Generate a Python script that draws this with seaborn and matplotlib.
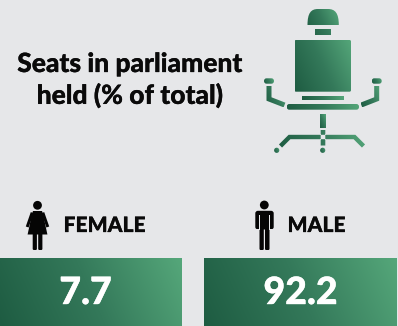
import numpy as np
import matplotlib
matplotlib.use("Agg")
import matplotlib.pyplot as plt
import matplotlib.patheffects as pe
from matplotlib.patches import Rectangle, Circle, FancyBboxPatch, Polygon, PathPatch
from matplotlib.path import Path
from matplotlib.transforms import IdentityTransform
import seaborn as sns

title_lines = ["Seats in parliament", "held (% of total)"]
categories = ["FEMALE", "MALE"]
values = [7.7, 92.2]

BG = "#e6e7e9"
W, H = 398, 326

sns.set_theme(style="white", rc={"figure.facecolor": BG, "axes.facecolor": BG})
plt.rcParams["font.family"] = ["Lato", "Open Sans", "DejaVu Sans"]

green = sns.blend_palette(["#1e5c42", "#34795a", "#55a77a"], as_cmap=True)

fig = plt.figure(figsize=(W / 100, H / 100), dpi=100)
ax = fig.add_axes([0, 0, 1, 1])
ax.set_xlim(0, W)
ax.set_ylim(H, 0)
ax.axis("off")


def gradient(x0, y0, x1, y1, clips=None, tilt=0.45):
    """Paint a diagonal green ramp over a box, optionally cut to some patches."""
    xx, yy = np.meshgrid(np.linspace(0, 1, 200), np.linspace(1, 0, 100))
    span = (x1 - x0) + tilt * (y1 - y0)
    ramp = (xx * (x1 - x0) + tilt * yy * (y1 - y0)) / span
    im = ax.imshow(ramp, extent=(x0, x1, y1, y0), origin="upper", cmap=green,
                   vmin=0, vmax=1, aspect="auto", zorder=2, interpolation="bilinear")
    if clips:
        verts, codes = [], []
        for p in clips:
            tr = IdentityTransform() if isinstance(p, PathPatch) else p.get_patch_transform()
            path = p.get_path().transformed(tr)
            verts.append(path.vertices)
            codes.append(path.codes if path.codes is not None else
                         [Path.MOVETO] + [Path.LINETO] * (len(path.vertices) - 1))
        merged = Path(np.concatenate(verts), np.concatenate(codes))
        im.set_clip_path(PathPatch(merged, transform=ax.transData))
    return im


def rounded(x0, y0, x1, y1, r):
    return FancyBboxPatch((x0 + r, y0 + r), x1 - x0 - 2 * r, y1 - y0 - 2 * r,
                          boxstyle=f"round,pad={r},rounding_size={r}")


def stroke(points, width):
    """Outline a mitred polyline as a closed polygon."""
    pts = np.asarray(points, float)
    left, right = [], []
    for i, p in enumerate(pts):
        a = pts[max(i - 1, 0)]
        b = pts[min(i + 1, len(pts) - 1)]
        if 0 < i < len(pts) - 1:
            d1 = (p - a) / np.linalg.norm(p - a)
            d2 = (b - p) / np.linalg.norm(b - p)
            n1 = np.array([-d1[1], d1[0]])
            n = n1 + np.array([-d2[1], d2[0]])
            n = n / np.dot(n, n1)
        else:
            d = (b - a) / np.linalg.norm(b - a)
            n = np.array([-d[1], d[0]])
        left.append(p + n * width / 2)
        right.append(p - n * width / 2)
    return Polygon(np.array(left + right[::-1]), closed=True)


def rect(x0, y0, x1, y1):
    return Rectangle((x0, y0), x1 - x0, y1 - y0)


def solid(patch, color="#050505", z=3):
    patch.set(color=color, lw=0, zorder=z)
    ax.add_patch(patch)


def heavy(color, width=0.2):
    """Thicken glyphs a little beyond the heaviest installed weight."""
    return [pe.withStroke(linewidth=width, foreground=color)]


# Headline
for line, y in zip(title_lines, [64, 95.5]):
    ax.text(129.5, y, line, ha="center", va="center", fontsize=19.0,
            fontweight=900, color="#0a0a0a", path_effects=heavy("#0a0a0a"))

# Office chair
headrest = PathPatch(Path(
    [(307.5, 25), (307.5, 13), (311, 9), (318, 9), (328, 9), (335, 9), (338.8, 13),
     (338.8, 25), (307.5, 25)],
    [Path.MOVETO, Path.CURVE4, Path.CURVE4, Path.CURVE4, Path.LINETO, Path.CURVE4,
     Path.CURVE4, Path.CURVE4, Path.CLOSEPOLY]))
gradient(307, 9, 339, 35, [headrest, rect(315, 29, 331, 35)])
gradient(294.5, 40, 351, 91.7, [rounded(294.5, 40, 351, 91.7, 1.5)])
gradient(302, 96, 344, 100, [rect(302, 96, 344, 100)])
gradient(286.7, 104, 359, 109.7, [rounded(286.7, 104, 359, 109.7, 2.6)])
gradient(320, 114, 326, 128, [rect(320, 114, 326, 128)])
gradient(264, 78.3, 274, 83.7, [rounded(264, 78.3, 274, 83.7, 2.6)])
gradient(371.7, 78.3, 381.7, 83.7, [rounded(371.7, 78.3, 381.7, 83.7, 2.6)])
gradient(266, 86, 285.5, 107.5, [stroke([(269, 86), (269, 99), (284.5, 105)], 5)])
gradient(360.5, 86, 380, 107.5, [stroke([(376.7, 86), (376.7, 99), (361.3, 105)], 5)])
gradient(278, 130, 365, 148,
         [stroke([(280.5, 146), (289.5, 137), (354.5, 137), (363.5, 146)], 4.4),
          rect(320.7, 130, 325.3, 145.5)])
gradient(274, 147.5, 279.5, 153, [Circle((276.7, 150.3), 2.6)])
gradient(320, 147.5, 325.5, 153, [Circle((322.7, 150.3), 2.6)])

# Female figure
solid(Circle((37.5, 205.3), 4.4))
solid(Polygon([(33, 211), (42, 211), (43, 214), (47.4, 234.5), (27.6, 234.5),
               (32, 214)]))
solid(stroke([(32.2, 212.6), (27.2, 227)], 3.0))
solid(stroke([(42.8, 212.6), (47.8, 227)], 3.0))
solid(rounded(32.7, 233, 36.9, 250, 1.2))
solid(rounded(38.2, 233, 42.4, 250, 1.2))

# Male figure
solid(Circle((264.3, 205), 4.4))
solid(rounded(255.3, 210.8, 273.7, 229.5, 2.6))
for x0, x1 in [(258.8, 259.8), (269.2, 270.2)]:
    solid(rect(x0, 214.5, x1, 230), color=BG, z=3.5)
for x0, x1 in [(255, 259), (270, 274)]:
    solid(rect(x0, 229.4, x1, 231), color=BG, z=3.5)
solid(rounded(259.5, 225, 263.8, 250, 1.2))
solid(rounded(265, 225, 269.5, 250, 1.2))

# Category labels and value cards
label_x = [63.5, 287.5]
card_x = [(0, 182), (204, 397)]
for name, lx in zip(categories, label_x):
    ax.text(lx, 225.5, name, ha="left", va="center", fontsize=15.2,
            fontweight=900, color="#0a0a0a", zorder=4, path_effects=heavy("#0a0a0a"))
for val, (x0, x1) in zip(values, card_x):
    gradient(x0, 258, x1, H)
    ax.text((x0 + x1) / 2 - 5.5 if val < 10 else (x0 + x1) / 2, 293, f"{val}",
            ha="center", va="center", fontsize=27, fontweight=900,
            color="white", zorder=4, path_effects=heavy("white", 0.3))

ax.set_xlim(0, W)
ax.set_ylim(H, 0)
fig.savefig("out.png", dpi=100, facecolor=BG)
